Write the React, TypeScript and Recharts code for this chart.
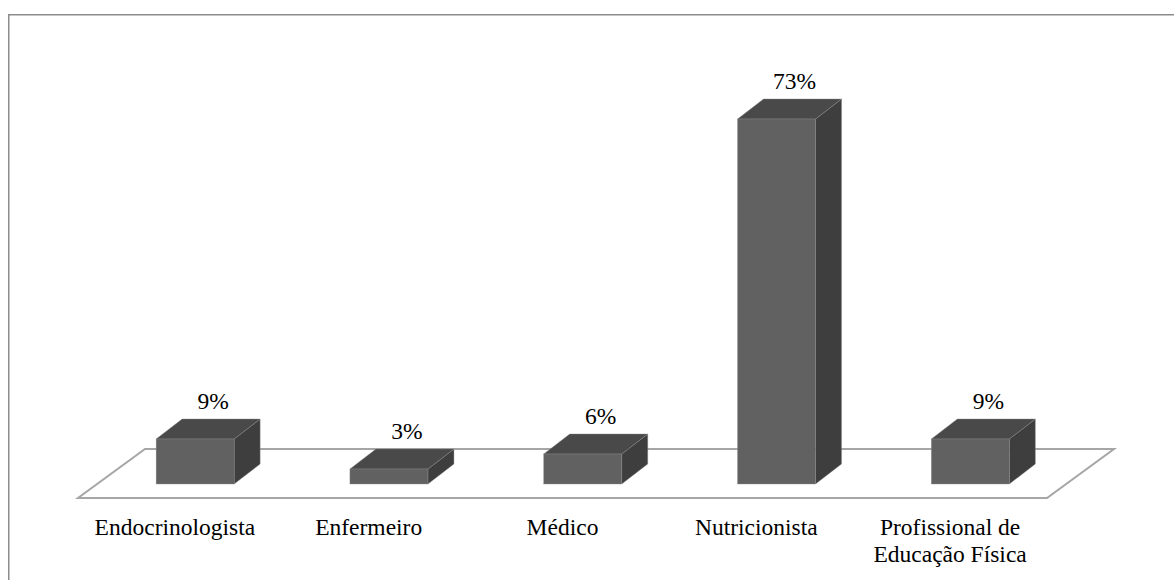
import React from 'react';
import { Bar, BarChart, LabelList, XAxis, YAxis } from 'recharts';

// Categorias e percentuais
const categories = [
  'Endocrinologista',
  'Enfermeiro',
  'Médico',
  'Nutricionista',
  'Profissional de\nEducação Física',
];
const shares = [9, 3, 6, 73, 9];

const data = categories.map((name, i) => ({ name, value: shares[i] }));

const W = 1174;
const H = 580;
const margin = { top: 98, right: 127, bottom: 42, left: 78 };
const AXIS_H = 40;
const plotLeft = margin.left;
const plotRight = W - margin.right;
const plotBottom = H - margin.bottom - AXIS_H;

// floor depth and where the bars sit inside it
const FLOOR_DX = 67;
const FLOOR_DY = 49;
const SHIFT_X = 20;
const SHIFT_Y = 14;
// bar depth
const DX = 26;
const DY = 20;

const FONT = 'Liberation Serif';
const FONT_SIZE = 23.5;

const css = `
.chart3d text, .chart3d tspan {
  font-family: "Liberation Serif", "Times New Roman", serif !important;
}
`;

function Box3D(props: any) {
  const { x, y, width, height } = props;
  const fx = x + SHIFT_X;
  const fy = y - SHIFT_Y;
  const top = `${fx},${fy} ${fx + DX},${fy - DY} ${fx + width + DX},${fy - DY} ${fx + width},${fy}`;
  const side = `${fx + width},${fy} ${fx + width + DX},${fy - DY} ${fx + width + DX},${fy + height - DY} ${fx + width},${fy + height}`;
  return (
    <g>
      <polygon points={side} fill="#3e3e3e" stroke="#8a8a8a" strokeWidth={0.4} />
      <polygon points={top} fill="#494949" stroke="#8a8a8a" strokeWidth={0.4} />
      <rect x={fx} y={fy} width={width} height={height} fill="#616161" stroke="#8a8a8a" strokeWidth={0.4} />
    </g>
  );
}

function ValueLabel(props: any) {
  const { x, y, width, value } = props;
  return (
    <text
      x={x + width / 2 + SHIFT_X + 18}
      y={y - SHIFT_Y - 30}
      textAnchor="middle"
      fontFamily={FONT}
      fontSize={FONT_SIZE}
      fill="#000"
    >
      {`${value}%`}
    </text>
  );
}

function CategoryTick(props: any) {
  const { x, payload } = props;
  const lines = String(payload.value).split('\n');
  return (
    <text x={x} y={plotBottom + 37} textAnchor="middle" fontFamily={FONT} fontSize={FONT_SIZE} fill="#000">
      {lines.map((line, i) => (
        <tspan key={i} x={x} dy={i === 0 ? 0 : 27}>
          {line}
        </tspan>
      ))}
    </text>
  );
}

export default function App() {
  const floor = [
    [plotLeft, plotBottom],
    [plotRight, plotBottom],
    [plotRight + FLOOR_DX, plotBottom - FLOOR_DY],
    [plotLeft + FLOOR_DX, plotBottom - FLOOR_DY],
  ]
    .map((p) => p.join(','))
    .join(' ');

  return (
    <div
      className="chart3d"
      style={{ position: 'absolute', left: 0, top: 0, width: W, height: H, background: '#fff', overflow: 'hidden' }}
    >
      <style>{css}</style>
      <svg width={W} height={H} style={{ position: 'absolute', left: 0, top: 0 }}>
        <rect x={8.75} y={14.75} width={W + 20} height={H + 20} fill="#fff" stroke="#8c8c8c" strokeWidth={1.5} />
        <polygon points={floor} fill="#fff" stroke="#a6a6a6" strokeWidth={2} />
      </svg>
      <div style={{ position: 'absolute', left: 0, top: 0 }}>
        <BarChart width={W} height={H} data={data} margin={margin} barCategoryGap="30%">
          <XAxis dataKey="name" axisLine={false} tickLine={false} height={AXIS_H} interval={0} tick={<CategoryTick />} />
          <YAxis hide domain={[0, 80]} />
          <Bar dataKey="value" shape={<Box3D />} isAnimationActive={false}>
            <LabelList dataKey="value" content={<ValueLabel />} />
          </Bar>
        </BarChart>
      </div>
    </div>
  );
}
